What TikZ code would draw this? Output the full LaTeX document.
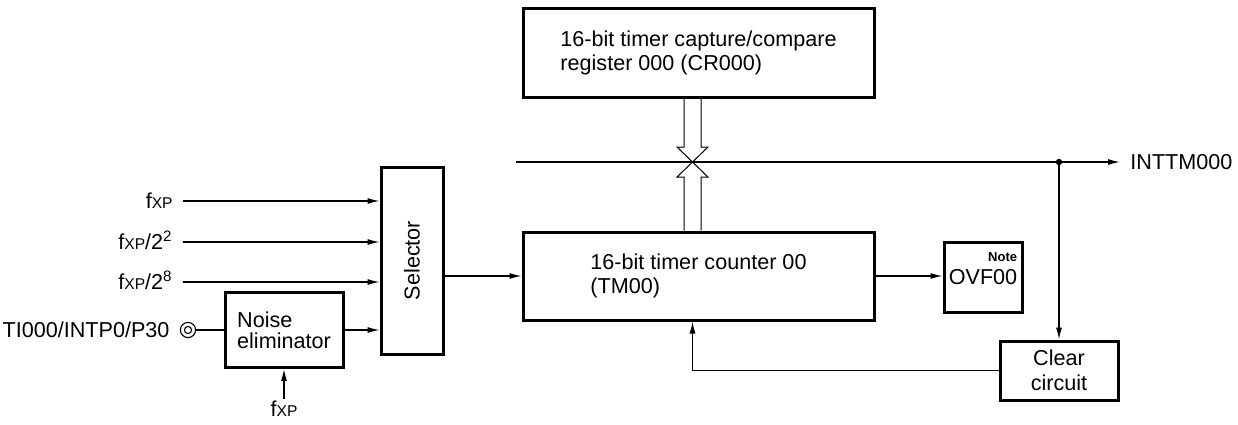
\documentclass[tikz,border=0pt]{standalone}
\usepackage{fontspec}
\setmainfont{Liberation Sans}
\usetikzlibrary{arrows.meta,calc,positioning}
\newcommand{\fxp}{f{\fontsize{7.8}{8}\selectfont XP}}
\tikzset{
  block/.style={
    draw, line width=1.5pt, align=left, inner sep=0pt,
    font=\fontsize{10.8}{12}\selectfont
  },
  sig/.style={-{Latex[length=6pt,width=3pt]}, line width=0.6pt},
  wire/.style={line width=0.6pt},
  bus/.style={line width=0.5pt, line join=miter},
  inlabel/.style={
    anchor=east, inner xsep=5pt, text height=7.5pt, text depth=0pt,
    font=\fontsize{10.8}{12}\selectfont
  },
  outlabel/.style={anchor=west, inner xsep=5pt, font=\fontsize{10.8}{12}\selectfont},
  notetag/.style={font=\fontsize{6.5}{7}\selectfont\bfseries, inner sep=1.5pt}
}

\begin{document}
\begin{tikzpicture}[x=0.5pt,y=-0.5pt]
    \useasboundingbox (0,0) rectangle (1238,424);
    % blocks
    \node[block,minimum width=175.5pt,minimum height=44.5pt] (cr) at (698.5,52.5)
      {16-bit timer capture/compare\\register 000 (CR000)};
    \node[block,minimum width=175.5pt,minimum height=44pt] (tm) at (698.5,276)
      {16-bit timer counter 00\\(TM00)};
    \node[block,minimum width=31pt,minimum height=93.5pt] (sel) at (412,260.5)
      {\rotatebox{90}{Selector}};
    \node[block,minimum width=59pt,minimum height=37.5pt] (noise) at (284,330)
      {Noise\\[-1.5pt]eliminator};
    \node[block,align=center,minimum width=59pt,minimum height=29.5pt] (clr) at (1059,370.5)
      {Clear\\[0.5pt]circuit};
    \node[block,minimum width=39pt,minimum height=35pt] (ovf) at (983,277) {OVF00};
    \node[notetag,anchor=north east] (ovfnote) at ($(ovf.north east)+(-3,9)$) {Note};
    % clock inputs
    \node[inlabel] (lfa) at (183,201) {\fxp};
    \node[inlabel] (lfb) at (183,242) {\fxp/2\textsuperscript{2}};
    \node[inlabel] (lfc) at (183,282) {\fxp/2\textsuperscript{8}};
    \draw[sig] (lfa) -- (lfa -| sel.west);
    \draw[sig] (lfb) -- (lfb -| sel.west);
    \draw[sig] (lfc) -- (lfc -| sel.west);
    % external pin
    \node[draw,circle,minimum size=7.6pt,inner sep=0pt,line width=0.55pt,
      path picture={\draw[line width=0.55pt] (path picture bounding box.center) circle (1.8pt);}]
      (pin) at (188,330) {};
    \node[inlabel,left=0pt of pin] (lti) {TI000/INTP0/P30};
    \draw[wire] (pin) -- (noise);
    \draw[sig] (noise) -- (noise -| sel.west);
    \node[inlabel,anchor=north,inner ysep=1pt] (lfd) at (284,399) {\fxp};
    \draw[sig] (lfd) -- (noise);
    % counter path
    \draw[sig] (sel.east |- tm) -- (tm);
    \draw[sig] (tm) -- (tm -| ovf.west);
    % compare bus
    \coordinate (cross) at (692.5,162);
    \draw[bus] ($(cr.south -| cross)+(-8.5,0)$) -- ($(cross)+(-8.5,-15)$)
      -- ($(cross)+(-15.5,-15)$) -- (cross) -- ($(cross)+(15.5,-15)$)
      -- ($(cross)+(8.5,-15)$) -- ($(cr.south -| cross)+(8.5,0)$);
    \draw[bus] ($(tm.north -| cross)+(-8.5,0)$) -- ($(cross)+(-8.5,15)$)
      -- ($(cross)+(-15.5,15)$) -- (cross) -- ($(cross)+(15.5,15)$)
      -- ($(cross)+(8.5,15)$) -- ($(tm.north -| cross)+(8.5,0)$);
    % match signal
    \coordinate (busin) at (516,162);
    \coordinate (tap) at (1059,162);
    \node[outlabel] (int) at (1120,162) {INTTM000};
    \draw[wire] (busin) -- (tap);
    \draw[sig] (tap) -- (int);
    \draw[sig] (tap) -- (tap |- clr.north);
    \fill (tap) circle (1.6pt);
    \draw[sig] (clr) -| (cross |- tm.south);
\end{tikzpicture}
\end{document}
